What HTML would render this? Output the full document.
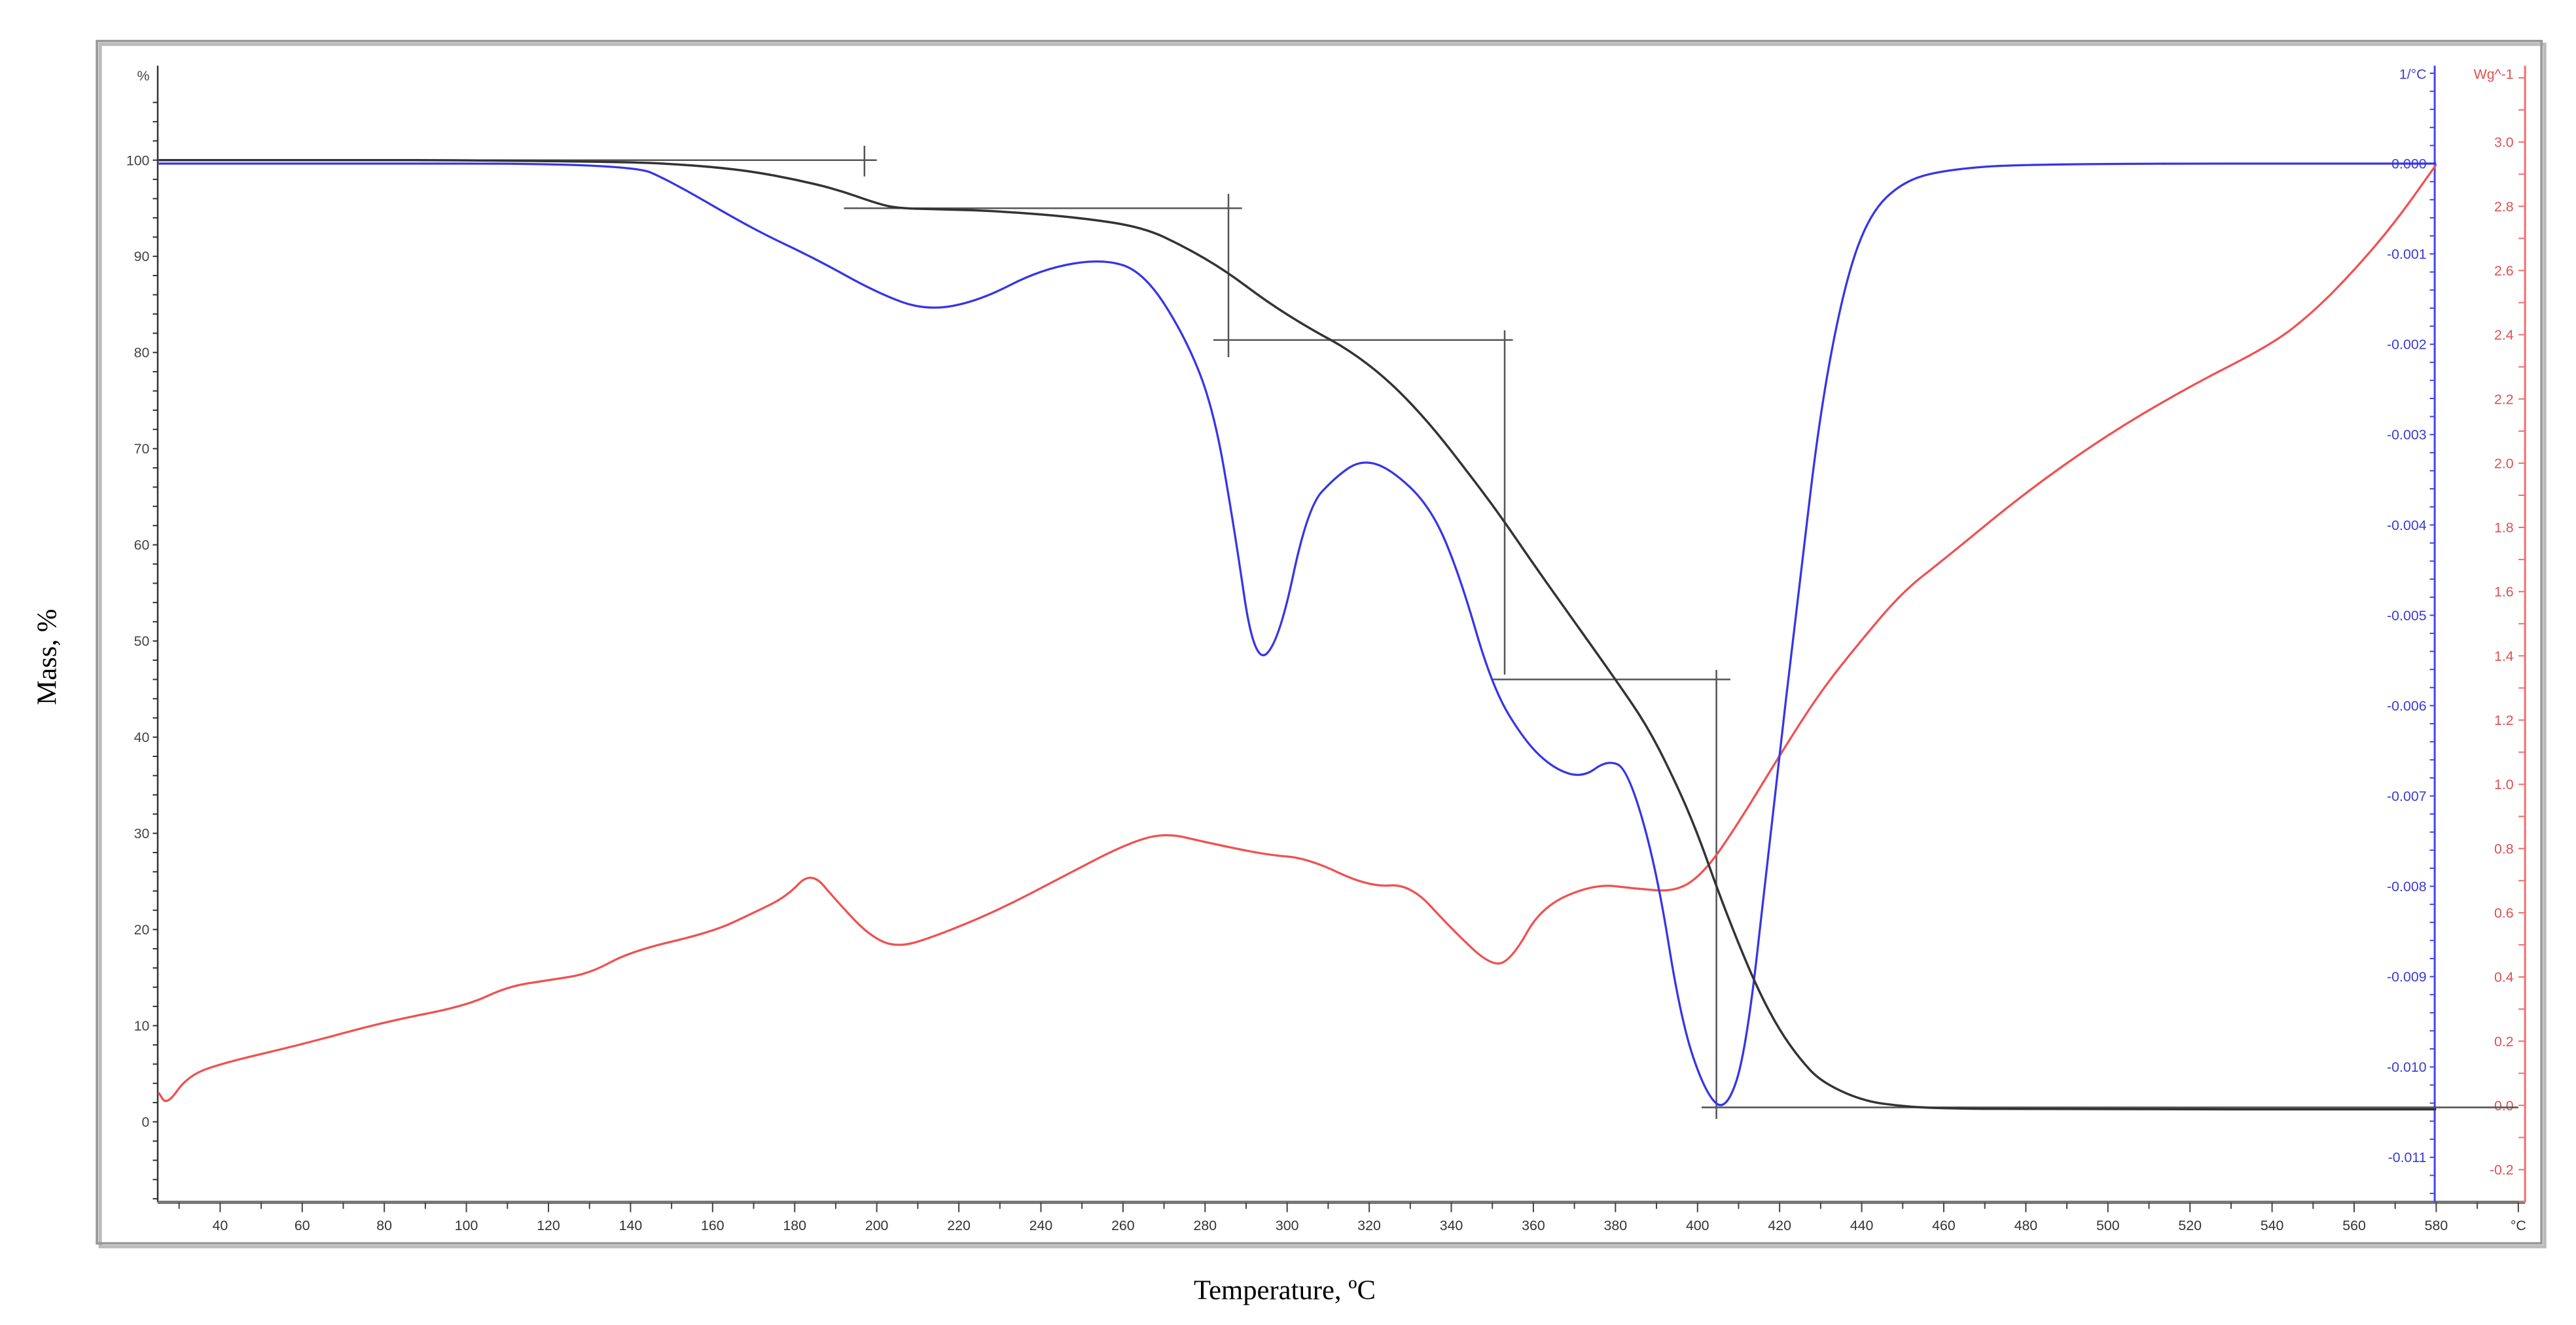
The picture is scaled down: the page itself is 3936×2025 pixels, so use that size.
<!DOCTYPE html>
<html><head><meta charset="utf-8"><style>
html,body{margin:0;padding:0;background:#fff;}
svg{display:block;}
text{font-family:"Liberation Sans",sans-serif;}
</style></head><body>
<svg id="chart" width="3936" height="2025" viewBox="0 0 1568 806.7" preserveAspectRatio="none" xmlns="http://www.w3.org/2000/svg">
<rect x="0" y="0" width="1568" height="806.7" fill="#fff"/>
<rect x="61" y="27" width="1488" height="732" fill="none" stroke="#bbb" stroke-width="2"/>
<rect x="59" y="25" width="1488" height="732" fill="none" stroke="#999" stroke-width="1.5"/>
<g id="axes"></g>
<g id="series"></g>
<text x="34" y="400" font-size="17" text-anchor="middle" transform="rotate(-90 34 400)" style="font-family:'Liberation Serif',serif">Mass, %</text>
<text x="782" y="791" font-size="17" text-anchor="middle" style="font-family:'Liberation Serif',serif">Temperature, ºC</text>
</svg>
<script>
// ---- data ----
const massT = [25,60,100,140,150,160,170,180,190,200,205,215,230,250,265,275,285,295,305,315,325,335,345,352,360,370,380,388,395,400,405,410,415,420,425,430,440,450,460,480,580];
const massV = [100,100,100,99.8,99.6,99.3,98.8,98,97,95.5,95,94.9,94.7,94,93,91,88.5,85.3,82.6,80.3,77,72.5,67,63,58,52,46,41,35,30,24,18.5,13.5,9.5,6.5,4.2,2.2,1.6,1.4,1.3,1.3];
const dtgT = [25,60,140,150,170,185,200,212,225,240,255,265,275,282,287,292,298,305,312,318,325,335,342,350,358,365,372,378,383,390,396,402,407,412,418,425,430,436,442,450,460,480,580];
const dtgV = [0,0,0,-0.0002,-0.00073,-0.00105,-0.00143,-0.00163,-0.00152,-0.00117,-0.00105,-0.0012,-0.0019,-0.0027,-0.004,-0.00555,-0.0053,-0.0038,-0.00346,-0.00328,-0.00337,-0.0038,-0.00455,-0.0058,-0.0064,-0.0067,-0.0068,-0.0066,-0.0067,-0.0078,-0.0095,-0.0103,-0.0105,-0.0098,-0.0073,-0.0046,-0.0027,-0.0013,-0.00055,-0.0002,-0.00007,0,0];
const dscT = [25,27,32,40,60,80,100,110,120,130,140,160,170,178,184,190,198,205,215,230,245,260,270,280,295,305,320,330,340,350,355,362,375,385,395,402,410,420,430,440,450,460,480,500,520,540,550,560,570,580];
const dscV = [0.04,0.0,0.09,0.13,0.19,0.26,0.31,0.37,0.39,0.41,0.48,0.54,0.6,0.65,0.73,0.64,0.53,0.49,0.53,0.61,0.71,0.81,0.85,0.82,0.78,0.77,0.68,0.69,0.55,0.43,0.46,0.62,0.69,0.675,0.665,0.73,0.88,1.09,1.29,1.45,1.6,1.7,1.91,2.09,2.24,2.37,2.47,2.6,2.75,2.93];
const stepH = [[25,200,100],[192,289,95],[282,355,81.3],[350,408,46],[401,600,1.5]];
const stepV = [[197,98.3,101.5],[285.7,79.5,96.5],[353,46.5,82.3],[404.6,0.3,47]];
const xTicks = [40,60,80,100,120,140,160,180,200,220,240,260,280,300,320,340,360,380,400,420,440,460,480,500,520,540,560,580];
const yTicks = [0,10,20,30,40,50,60,70,80,90,100];
const dtgTicks = [0,-0.001,-0.002,-0.003,-0.004,-0.005,-0.006,-0.007,-0.008,-0.009,-0.010,-0.011];
const dscTicks = [3.0,2.8,2.6,2.4,2.2,2.0,1.8,1.6,1.4,1.2,1.0,0.8,0.6,0.4,0.2,0.0,-0.2];
// ---- scales ----
const X = t => 134 + (t - 40) * 2.498;
const Ym = v => 683 - v * 5.855;
const Yd = v => 99.6 - v * 55000;
const Yr = v => 673 - v * 195.5;
const NS = 'http://www.w3.org/2000/svg';
const axes = document.getElementById('axes');
const series = document.getElementById('series');
function mk(tag, attrs, parent){const e=document.createElementNS(NS,tag);for(const k in attrs)e.setAttribute(k,attrs[k]);parent.appendChild(e);return e;}
// left axis
let e = mk('line',{x1:96,y1:40,x2:96,y2:732,stroke:'#333','stroke-width':1},axes);


e = mk('line',{x1:96,y1:732,x2:1537,y2:732,stroke:'#777','stroke-width':2},axes);


for(let v=-8;v<=106;v+=2){mk('line',{x1:93,y1:Ym(v),x2:96,y2:Ym(v),stroke:'#333','stroke-width':0.8},axes);}
yTicks.forEach(v=>{
  const t=mk('text',{x:91,y:Ym(v)+3,'font-size':8.5,'text-anchor':'end',fill:'#444'},axes);t.textContent=v;
  
  
});
e=mk('text',{x:91,y:49,'font-size':8.5,'text-anchor':'end',fill:'#444'},axes);e.textContent='%';


for(let t=30;t<=600;t+=10){mk('line',{x1:X(t),y1:732,x2:X(t),y2:t%20==0?738:736,stroke:'#444','stroke-width':0.8},axes);}
xTicks.forEach(v=>{
  const t=mk('text',{x:X(v),y:749,'font-size':8.5,'text-anchor':'middle',fill:'#333'},axes);t.textContent=v;
  
  
});
e=mk('text',{x:X(600),y:749,'font-size':8.5,'text-anchor':'middle',fill:'#333'},axes);e.textContent='°C';


// blue axis
e=mk('line',{x1:1482,y1:40,x2:1482,y2:732,stroke:'#4444ee','stroke-width':1.2},axes);


for(let i=-5;i<=57;i++){const y=99.6+i*11;mk('line',{x1:1479,y1:y,x2:1482,y2:y,stroke:'#4444ee','stroke-width':0.8},axes);}
dtgTicks.forEach(v=>{
  const t=mk('text',{x:1477,y:Yd(v)+3,'font-size':8.5,'text-anchor':'end',fill:'#3a3ad8'},axes);t.textContent=v.toFixed(3);
  
  
});
e=mk('text',{x:1477,y:48,'font-size':8.5,'text-anchor':'end',fill:'#3a3ad8'},axes);e.textContent='1/°C';


// red axis
e=mk('line',{x1:1537,y1:40,x2:1537,y2:732,stroke:'#f07070','stroke-width':1.2},axes);


for(let i=-2;i<=33;i++){const y=Yr(3.0)+i*19.55;mk('line',{x1:1533,y1:y,x2:1537,y2:y,stroke:'#f07070','stroke-width':0.8},axes);}
dscTicks.forEach(v=>{
  const t=mk('text',{x:1530,y:Yr(v)+3,'font-size':8.5,'text-anchor':'end',fill:'#e05050'},axes);t.textContent=v.toFixed(1);
  
  
});
e=mk('text',{x:1530,y:48,'font-size':8.5,'text-anchor':'end',fill:'#e05050'},axes);e.textContent='Wg^-1';


// step construction lines
stepH.forEach(s=>{const l=mk('line',{x1:X(s[0]),y1:Ym(s[2]),x2:X(Math.min(s[1],600)),y2:Ym(s[2]),stroke:'#555','stroke-width':1},series);
  
  });
stepV.forEach(s=>{const l=mk('line',{x1:X(s[0]),y1:Ym(s[1]),x2:X(s[0]),y2:Ym(s[2]),stroke:'#555','stroke-width':1},series);
  
  });
function path(T,V,Y){let d='';for(let i=0;i<T.length;i++){const x=X(T[i]),y=Y(V[i]);if(i==0)d='M'+x+' '+y;else{const x0=X(T[i-1]),y0=Y(V[i-1]);d+=' Q'+x0+' '+y0+' '+((x0+x)/2)+' '+((y0+y)/2);}}d+=' L'+X(T[T.length-1])+' '+Y(V[V.length-1]);return d;}
let p=mk('path',{d:path(dscT,dscV,Yr),fill:'none',stroke:'#f05050','stroke-width':1.3},series);


p=mk('path',{d:path(dtgT,dtgV,Yd),fill:'none',stroke:'#3535e8','stroke-width':1.3},series);


p=mk('path',{d:path(massT,massV,Ym),fill:'none',stroke:'#333','stroke-width':1.4},series);


</script>
</body></html>
